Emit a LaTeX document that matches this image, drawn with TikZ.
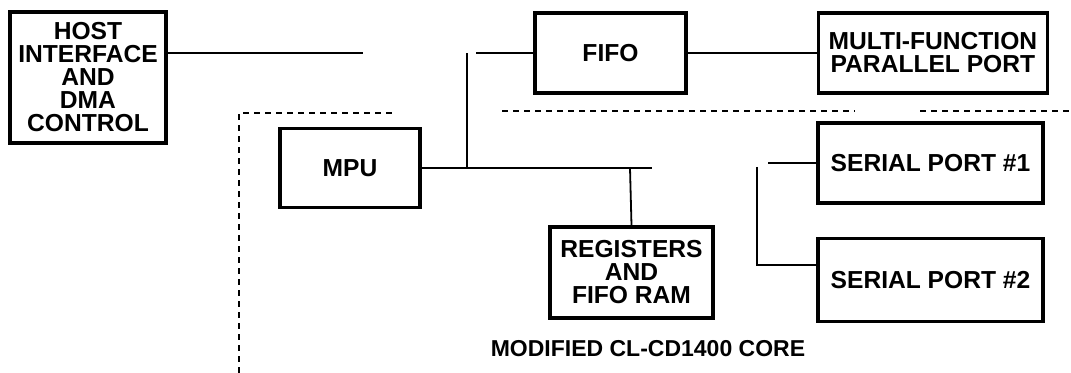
\documentclass[tikz,border=0pt]{standalone}
\usepackage{fontspec}
\setmainfont{Liberation Sans}
\usetikzlibrary{positioning}

\begin{document}
\begin{tikzpicture}[
        x=0.5pt, y=-0.5pt,
        node distance=16pt and 64.5pt,
        box/.style={rectangle, draw, line width=1.7pt, inner sep=0pt, align=center, font=\bfseries\fontsize{12.3}{11.5}\selectfont},
        caption/.style={inner sep=0pt, font=\bfseries\fontsize{11.5}{11.5}\selectfont},
        link/.style={line width=0.9pt},
        core/.style={line width=0.9pt, dash pattern=on 3pt off 2.5pt}
    ]
        \useasboundingbox (0,0) rectangle (1071,373);

        \node[box, minimum width=78pt, minimum height=65.5pt] (HOST) at (88,77.5) {HOST\\INTERFACE\\AND\\DMA\\CONTROL};
        \node[box, minimum width=70pt, minimum height=39.5pt] (MPU) at (350,168) {MPU};
        \node[box, minimum width=75.5pt, minimum height=40pt] (FIFO) at (610.5,53) {FIFO};
        \node[box, minimum width=114.5pt, minimum height=40pt, right=of FIFO] (MFPP) {MULTI-FUNCTION\\PARALLEL PORT};
        \node[box, minimum width=81.5pt, minimum height=45.5pt] (REGS) at (631.5,272.5) {REGISTERS\\AND\\FIFO RAM};
        \node[box, minimum width=112.5pt, minimum height=40pt] (SP1) at (930.5,163) {SERIAL PORT \#1};
        \node[box, minimum width=112.5pt, minimum height=41.5pt, below=of SP1] (SP2) {SERIAL PORT \#2};
        \node[caption] (CORE) at (648,349) {MODIFIED CL-CD1400 CORE};

        % free ends of the bus lines
        \coordinate (hostend) at (363,53);
        \coordinate (busend) at (652,168);
        \coordinate (tapfifo) at (467,168);
        \coordinate (tapfifotop) at (467,53);
        \coordinate (fifoin) at (476,53);
        \coordinate (tapregs) at (630,168);
        \coordinate (serin) at (768,163);
        \coordinate (sertop) at (757,167);
        \coordinate (serbot) at (757,265);

        \draw[link] (HOST.east |- hostend) -- (hostend);
        \draw[link] (MPU.east) -- (busend);
        \draw[link] (tapfifo) -- (tapfifotop);
        \draw[link] (fifoin) -- (FIFO.west);
        \draw[link] (FIFO.east) -- (MFPP.west);
        \draw[link] (tapregs) -- (REGS.north);
        \draw[link] (serin) -- (SP1.west);
        \draw[link] (sertop) -- (serbot) -- (SP2.west |- serbot);

        % core boundary
        \draw[core] (239,373) -- (239,113) -- (392,113);
        \draw[core] (502,111) -- (855,111);
        \draw[core] (920,111) -- (1071,111);
    \end{tikzpicture}
\end{document}
